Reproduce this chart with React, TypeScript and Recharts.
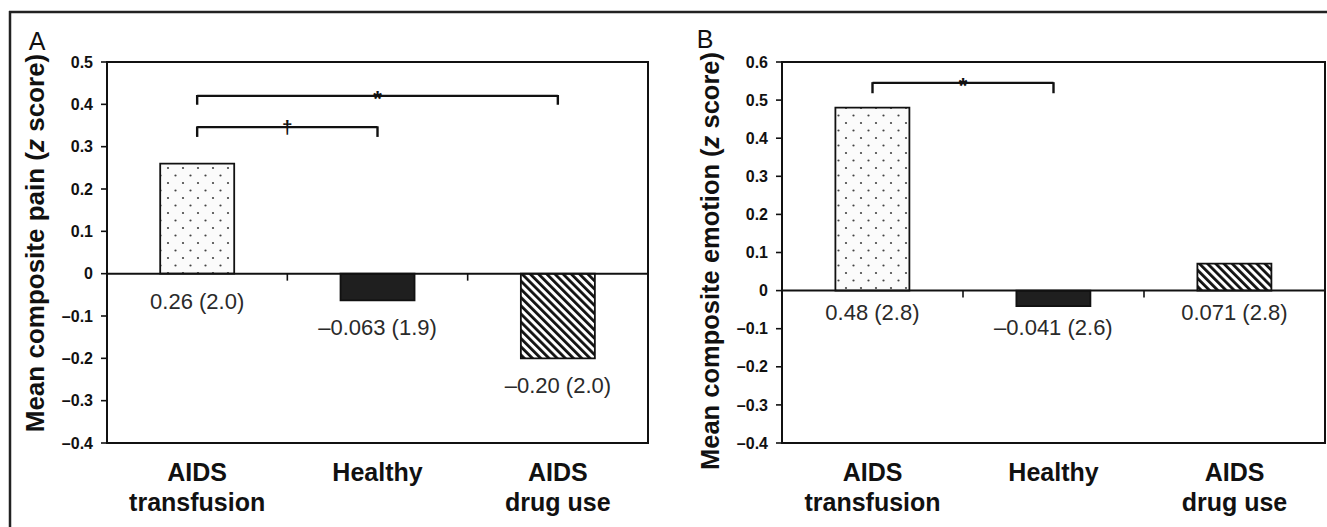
import React from 'react'
import { BarChart, Bar, XAxis, YAxis, Cell, LabelList, ReferenceLine, ReferenceArea } from 'recharts'

const FONT = '"Liberation Sans", Arial, Helvetica, sans-serif'

const categories = ['AIDS\ntransfusion', 'Healthy', 'AIDS\ndrug use']

const painValues = [0.26, -0.063, -0.2]
const painLabels = ['0.26 (2.0)', '\u20130.063 (1.9)', '\u20130.20 (2.0)']
const painTicks = [-0.4, -0.3, -0.2, -0.1, 0, 0.1, 0.2, 0.3, 0.4, 0.5]

const emotionValues = [0.48, -0.041, 0.071]
const emotionLabels = ['0.48 (2.8)', '\u20130.041 (2.6)', '0.071 (2.8)']
const emotionTicks = [-0.4, -0.3, -0.2, -0.1, 0, 0.1, 0.2, 0.3, 0.4, 0.5, 0.6]

// significance brackets: category index from / to, bracket level, hook length
const painBrackets = [
  { from: 0, to: 2, y: 0.42, drop: 0.021, mark: '*' },
  { from: 0, to: 1, y: 0.346, drop: 0.023, mark: '\u2020' },
]
const emotionBrackets = [{ from: 0, to: 1, y: 0.545, drop: 0.027, mark: '*' }]

interface Bracket {
  from: number
  to: number
  y: number
  drop: number
  mark: string
}

interface PanelProps {
  id: string
  values: number[]
  labels: string[]
  ticks: number[]
  brackets: Bracket[]
  width: number
  left: number
  margin: { top: number; right: number; bottom: number; left: number }
  labelGap: number
}

const fmtTick = (v: number) => {
  if (Math.abs(v) < 1e-9) return '0'
  return v < 0 ? '\u2013' + Math.abs(v).toFixed(1) : v.toFixed(1)
}

const CategoryTick = (props: any) => {
  const { x, y, payload } = props
  const lines = String(payload.value).split('\n')
  return (
    <text x={x} y={y} textAnchor="middle" fontFamily={FONT} fontWeight="bold" fontSize={25} fill="#111">
      {lines.map((l, i) => (
        <tspan key={i} x={x} dy={i === 0 ? 38 : 30}>
          {l}
        </tspan>
      ))}
    </text>
  )
}

const MarkLabel = (mark: string) => (props: any) => {
  const vb = props.viewBox || {}
  const cx = vb.x + vb.width / 2
  const cy = vb.y + vb.height / 2
  const isStar = mark === '*'
  return (
    <text
      x={cx}
      y={isStar ? cy + 10 : cy + 6}
      textAnchor="middle"
      fontFamily={FONT}
      fontWeight="bold"
      fontSize={isStar ? 22 : 19}
      fill="#111"
    >
      {mark}
    </text>
  )
}

function Panel({ id, values, labels, ticks, brackets, width, left, margin, labelGap }: PanelProps) {
  const data = categories.map((name, i) => ({ name, value: values[i], label: labels[i] }))
  const fills = [`url(#dots-${id})`, '#1f1f1f', `url(#hatch-${id})`]
  const n = categories.length

  const zeroShape = (p: any) => {
    const step = (p.x2 - p.x1) / n
    return (
      <g>
        <line x1={p.x1} y1={p.y1} x2={p.x2} y2={p.y2} stroke="#111" strokeWidth={2} />
        {categories.slice(1).map((_, k) => (
          <line
            key={k}
            x1={p.x1 + step * (k + 1)}
            x2={p.x1 + step * (k + 1)}
            y1={p.y1}
            y2={p.y1 + 7}
            stroke="#111"
            strokeWidth={1.6}
          />
        ))}
      </g>
    )
  }

  const valueLabel = (props: any) => {
    const vb = props.viewBox && props.viewBox.width !== undefined ? props.viewBox : props
    const x = Number(vb.x)
    const y = Number(vb.y)
    const w = Number(vb.width)
    const h = Number(vb.height)
    const bottom = Math.max(y, y + h)
    return (
      <text
        x={x + w / 2}
        y={bottom + labelGap + 8}
        textAnchor="middle"
        fontFamily={FONT}
        fontSize={22}
        fill="#2a2a2a"
      >
        {props.value}
      </text>
    )
  }

  const bracketLines = brackets.flatMap((b, i) => {
    const a = categories[b.from]
    const c = categories[b.to]
    return [
      <ReferenceLine
        key={`h${i}`}
        segment={[{ x: a, y: b.y }, { x: c, y: b.y }]}
        stroke="#111"
        strokeWidth={2.2}
        label={MarkLabel(b.mark)}
      />,
      <ReferenceLine key={`l${i}`} segment={[{ x: a, y: b.y + 0.002 }, { x: a, y: b.y - b.drop }]} stroke="#111" strokeWidth={2.4} />,
      <ReferenceLine key={`r${i}`} segment={[{ x: c, y: b.y + 0.002 }, { x: c, y: b.y - b.drop }]} stroke="#111" strokeWidth={2.4} />,
    ]
  })

  return (
    <div style={{ position: 'absolute', left, top: 0 }}>
      <BarChart width={width} height={527} data={data} margin={margin} barCategoryGap="29.5%">
        <defs>
          <pattern id={`dots-${id}`} patternUnits="userSpaceOnUse" width={15} height={15}>
            <rect width={15} height={15} fill="#fbfbfb" />
            <circle cx={3} cy={3} r={1.1} fill="#444" />
            <circle cx={10.5} cy={10.5} r={1.1} fill="#444" />
          </pattern>
          <pattern
            id={`hatch-${id}`}
            patternUnits="userSpaceOnUse"
            width={5.8}
            height={5.8}
            patternTransform="rotate(-45)"
          >
            <rect width={5.8} height={5.8} fill="#fff" />
            <rect width={2.8} height={5.8} fill="#111" />
          </pattern>
        </defs>
        <XAxis
          dataKey="name"
          axisLine={false}
          tickLine={false}
          tickSize={0}
          tickMargin={0}
          height={70}
          interval={0}
          tick={CategoryTick}
        />
        <YAxis
          type="number"
          domain={[ticks[0], ticks[ticks.length - 1]]}
          ticks={ticks}
          interval={0}
          axisLine={false}
          tickSize={6}
          tickMargin={8}
          tickLine={{ stroke: '#111', strokeWidth: 1.6 }}
          tick={{ fontSize: 16, fontWeight: 'bold', fill: '#111', fontFamily: FONT }}
          tickFormatter={fmtTick}
          width={60}
        />
        <ReferenceArea
          y1={ticks[0]}
          y2={ticks[ticks.length - 1]}
          fill="none"
          fillOpacity={0}
          stroke="#111"
          strokeWidth={2}
          ifOverflow="visible"
        />
        <Bar dataKey="value" isAnimationActive={false} stroke="#111" strokeWidth={1.8}>
          {data.map((_, i) => (
            <Cell key={i} fill={fills[i]} />
          ))}
          <LabelList dataKey="label" content={valueLabel} />
        </Bar>
        <ReferenceLine y={0} shape={zeroShape} />
        {bracketLines}
      </BarChart>
    </div>
  )
}

export default function App() {
  return (
    <div style={{ position: 'absolute', left: 0, top: 0, width: 1327, height: 527, background: '#fff' }}>
      <Panel
        id="a"
        values={painValues}
        labels={painLabels}
        ticks={painTicks}
        brackets={painBrackets}
        width={663}
        left={0}
        margin={{ top: 62, right: 15, bottom: 14, left: 47 }}
        labelGap={27}
      />
      <Panel
        id="b"
        values={emotionValues}
        labels={emotionLabels}
        ticks={emotionTicks}
        brackets={emotionBrackets}
        width={664}
        left={663}
        margin={{ top: 62, right: 2, bottom: 14, left: 59 }}
        labelGap={21}
      />
      <svg
        width={1327}
        height={527}
        style={{ position: 'absolute', left: 0, top: 0, pointerEvents: 'none' }}
        fontFamily={FONT}
      >
        <line x1={9} y1={12} x2={1327} y2={12} stroke="#222" strokeWidth={2.5} />
        <line x1={10} y1={11} x2={10} y2={527} stroke="#222" strokeWidth={2.5} />
        <text x={37} y={50} textAnchor="middle" fontSize={25} fill="#111">
          A
        </text>
        <text x={705} y={48} textAnchor="middle" fontSize={25} fill="#111">
          B
        </text>
        <text
          x={35}
          y={243}
          transform="rotate(-90 35 243)"
          textAnchor="middle"
          dominantBaseline="central"
          fontSize={26}
          fontWeight="bold"
          fill="#111"
        >
          Mean composite pain (<tspan fontStyle="italic">z</tspan> score)
        </text>
        <text
          x={710}
          y={261}
          transform="rotate(-90 710 261)"
          textAnchor="middle"
          dominantBaseline="central"
          fontSize={25.5}
          fontWeight="bold"
          fill="#111"
        >
          Mean composite emotion (<tspan fontStyle="italic">z</tspan> score)
        </text>
      </svg>
    </div>
  )
}
